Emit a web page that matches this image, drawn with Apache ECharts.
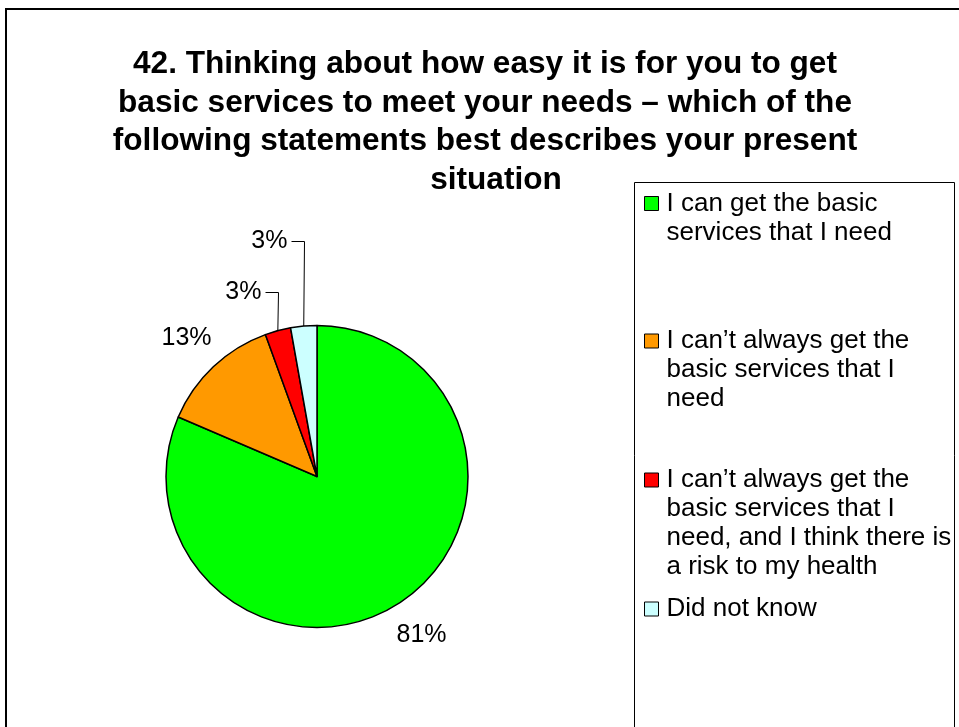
<!DOCTYPE html>
<html><head><meta charset="utf-8">
<script src="https://cdn.jsdelivr.net/npm/echarts@6/dist/echarts.min.js"></script>
<style>html,body{margin:0;padding:0;background:#fff}#c{width:959px;height:727px}</style>
</head><body><div id="c"></div>
<script>
const titleLines = [
  '42. Thinking about how easy it is for you to get',
  'basic services to meet your needs \u2013 which of the',
  'following statements best describes your present',
  'situation'
];
const categories = [
  'I can get the basic services that I need',
  'I can\u2019t always get the basic services that I need',
  'I can\u2019t always get the basic services that I need, and I think there is a risk to my health',
  'Did not know'
];
const legendLabels = [
  'I can get the basic\nservices that I need',
  'I can\u2019t always get the\nbasic services that I\nneed',
  'I can\u2019t always get the\nbasic services that I\nneed, and I think there is\na risk to my health',
  'Did not know'
];
const values = [81.45, 13.0, 2.75, 2.8];
const colors = ['#00FF00', '#FF9900', '#FF0000', '#CCFFFF'];

const FONT = "'Liberation Sans', Arial, sans-serif";
const LH = 29;
const legendFirstLine = [203.5, 341, 480, 609];
const lineLen = [39, 39, 40, 85];
const showLine = [false, false, true, true];

const chart = echarts.init(document.getElementById('c'), null, {renderer: 'canvas'});

const legends = categories.map((c, i) => {
  const n = legendLabels[i].split('\n').length;
  return {
    data: [c],
    orient: 'vertical',
    left: 644,
    top: legendFirstLine[i] - (n - 0.5) * LH,
    padding: 0,
    itemWidth: 14,
    itemHeight: 14,
    icon: 'rect',
    selectedMode: false,
    itemStyle: {borderColor: '#000', borderWidth: 1},
    formatter: name => {
      const t = legendLabels[categories.indexOf(name)];
      return '\n'.repeat(t.split('\n').length - 1) + t;
    },
    textStyle: {fontFamily: FONT, fontSize: 26, lineHeight: LH, color: '#000', padding: [0, 0, 0, 3]}
  };
});

const titleStyle = {fontFamily: FONT, fontSize: 31.6, fontWeight: 'bold', lineHeight: 38.7, color: '#000'};
const option = {
  animation: false,
  backgroundColor: '#fff',
  title: {
    text: titleLines.slice(0, 3).join('\n') + '\n{s|' + titleLines[3] + '}',
    left: 480, top: 40, textAlign: 'center',
    textStyle: Object.assign({}, titleStyle, {rich: {s: Object.assign({}, titleStyle, {padding: [0, 0, 0, 22]})}})
  },
  graphic: [
    {type: 'rect', silent: true, z: 0, shape: {x: 6, y: 9, width: 960, height: 730}, style: {fill: 'transparent', stroke: '#000', lineWidth: 2}},
    {type: 'rect', silent: true, z: 0, shape: {x: 634.5, y: 182.5, width: 320, height: 560}, style: {fill: 'transparent', stroke: '#000', lineWidth: 1}}
  ],
  legend: legends,
  series: [{
    type: 'pie',
    center: [317, 476.5],
    radius: 151,
    startAngle: 90,
    clockwise: true,
    avoidLabelOverlap: false,
    itemStyle: {borderColor: '#000', borderWidth: 1.5},
    emphasis: {disabled: true},
    label: {
      show: true, position: 'outside', color: '#000', fontFamily: FONT, fontSize: 25,
      formatter: p => Math.round(p.value) + '%'
    },
    labelLine: {show: true, length: 39, length2: 13, lineStyle: {color: '#000', width: 1}},
    data: categories.map((c, i) => ({
      name: c, value: values[i],
      itemStyle: {color: colors[i]},
      labelLine: {show: true, length: lineLen[i], length2: 13, lineStyle: {color: '#000', width: 1, opacity: showLine[i] ? 1 : 0}}
    })),
    labelLayout: function (params) {
      const i = params.dataIndex;
      const p = params.labelLinePoints;
      if (!p) return {};
      if (!showLine[i]) {
        return {x: p[1][0], y: p[1][1], align: 'center', verticalAlign: 'middle'};
      }
      const len2 = p[2][0] - p[1][0];
      const x3 = Math.round(p[0][0] + len2) + 0.5;
      const xv = Math.round(p[0][0]) + 0.5;
      const yh = Math.round(p[1][1]) + 0.5;
      return {
        x: x3 + (len2 < 0 ? -4 : 4), y: yh,
        align: len2 < 0 ? 'right' : 'left', verticalAlign: 'middle',
        labelLinePoints: [p[0], [xv, yh], [x3, yh]]
      };
    }
  }]
};
chart.setOption(option);
</script>
</body></html>
